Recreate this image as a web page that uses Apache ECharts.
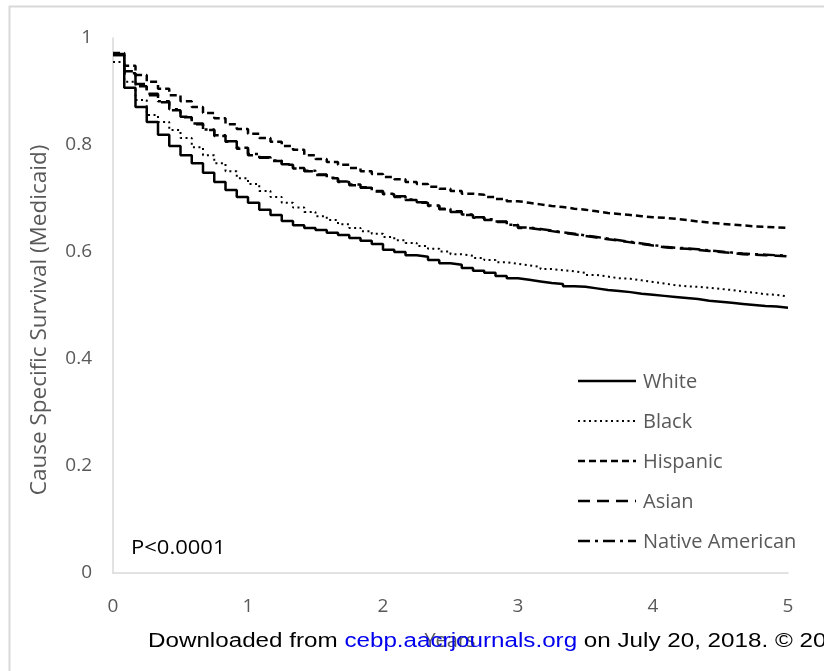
<!DOCTYPE html>
<html>
<head>
<meta charset="utf-8">
<script src="https://cdn.jsdelivr.net/npm/echarts@6/dist/echarts.min.js"></script>
<style>html,body{margin:0;padding:0;background:#fff}#c{width:824px;height:671px}</style>
</head>
<body>
<div id="c"></div>
<script>
// Monthly Kaplan-Meier estimates, month 0..60
const seriesNames = ['White', 'Black', 'Hispanic', 'Asian', 'Native American'];
const white = [0.968,0.907,0.871,0.843,0.819,0.798,0.781,0.766,0.748,0.731,0.716,0.703,0.692,0.679,0.669,0.658,0.650,0.645,0.641,0.636,0.632,0.626,0.621,0.615,0.604,0.600,0.594,0.591,0.585,0.579,0.576,0.570,0.565,0.561,0.555,0.551,0.548,0.545,0.542,0.540,0.536,0.535,0.532,0.529,0.527,0.525,0.522,0.520,0.518,0.516,0.514,0.512,0.509,0.507,0.505,0.503,0.501,0.499,0.498,0.496,0.495];
const black = [0.955,0.918,0.884,0.856,0.843,0.828,0.813,0.796,0.781,0.766,0.751,0.738,0.727,0.714,0.703,0.692,0.683,0.675,0.667,0.660,0.652,0.645,0.639,0.634,0.628,0.622,0.617,0.611,0.606,0.601,0.596,0.593,0.589,0.585,0.581,0.578,0.575,0.572,0.568,0.566,0.564,0.561,0.557,0.554,0.551,0.550,0.547,0.544,0.541,0.538,0.536,0.535,0.533,0.531,0.529,0.526,0.524,0.521,0.520,0.517,0.516];
const hispanic = [0.972,0.948,0.931,0.918,0.905,0.893,0.882,0.871,0.860,0.850,0.839,0.830,0.821,0.813,0.806,0.798,0.791,0.781,0.774,0.768,0.763,0.757,0.751,0.746,0.740,0.736,0.731,0.727,0.722,0.718,0.714,0.709,0.707,0.703,0.699,0.695,0.692,0.689,0.686,0.684,0.681,0.679,0.676,0.673,0.671,0.669,0.667,0.665,0.664,0.662,0.660,0.657,0.655,0.653,0.651,0.650,0.648,0.647,0.646,0.645,0.643];
const asian = [0.968,0.934,0.910,0.893,0.880,0.865,0.852,0.839,0.828,0.817,0.806,0.793,0.781,0.776,0.770,0.763,0.756,0.751,0.744,0.738,0.731,0.725,0.720,0.713,0.708,0.703,0.697,0.692,0.686,0.680,0.675,0.669,0.664,0.660,0.656,0.650,0.645,0.642,0.639,0.636,0.633,0.630,0.627,0.624,0.621,0.618,0.615,0.612,0.609,0.607,0.606,0.604,0.602,0.600,0.598,0.596,0.595,0.594,0.593,0.592,0.590];
const nativeAmerican = [0.970,0.938,0.914,0.896,0.882,0.867,0.853,0.840,0.829,0.818,0.807,0.795,0.783,0.777,0.771,0.764,0.757,0.752,0.745,0.739,0.732,0.726,0.721,0.714,0.709,0.704,0.698,0.693,0.687,0.681,0.676,0.670,0.665,0.661,0.657,0.651,0.646,0.643,0.640,0.637,0.634,0.631,0.628,0.625,0.622,0.619,0.616,0.613,0.610,0.608,0.607,0.605,0.603,0.601,0.599,0.597,0.596,0.595,0.594,0.593,0.592];
const xTicks = [0, 1, 2, 3, 4, 5];
const yTicks = [0, 0.2, 0.4, 0.6, 0.8, 1];

const years = white.map((_, i) => i / 12);
const toPairs = arr => arr.map((v, i) => [years[i], v]);

const styles = {
  'White': { width: 2.5, type: 'solid' },
  'Black': { width: 2, type: [2, 3.5] },
  'Hispanic': { width: 2.5, type: [7, 4] },
  'Asian': { width: 2.5, type: [12, 7] },
  'Native American': { width: 2.5, type: [12, 5, 3, 5] }
};
const dataMap = { 'White': white, 'Black': black, 'Hispanic': hispanic, 'Asian': asian, 'Native American': nativeAmerican };

const gray = '#595959';
const font = '"Open Sans"';

// manual legend (line sample + label)
const legendGraphics = [];
const legendX = 578, legendW = 58, legendTop = 381, legendStep = 40;
seriesNames.forEach((name, i) => {
  const y = legendTop + i * legendStep;
  legendGraphics.push({
    type: 'line', shape: { x1: legendX, y1: y, x2: legendX + legendW, y2: y },
    style: { stroke: '#000', lineWidth: styles[name].width, lineDash: styles[name].type === 'solid' ? null : styles[name].type }
  });
  legendGraphics.push({
    type: 'text', x: legendX + legendW + 7, y: y + 1,
    style: { text: name, fill: gray, font: '20px ' + font, textAlign: 'left', textVerticalAlign: 'middle' }
  });
});

const chart = echarts.init(document.getElementById('c'), null, { renderer: 'canvas' });
chart.setOption({
  backgroundColor: '#ffffff',
  animation: false,
  grid: { left: 113, right: 36, top: 38, bottom: 98, containLabel: false },
  xAxis: {
    type: 'value', min: xTicks[0], max: xTicks[xTicks.length - 1], interval: 1,
    axisLine: { show: true, lineStyle: { color: '#d9d9d9', width: 1.5 } },
    axisTick: { show: false },
    splitLine: { show: false },
    axisLabel: { color: gray, fontSize: 19, fontFamily: font, margin: 24 }
  },
  yAxis: {
    type: 'value', min: yTicks[0], max: yTicks[yTicks.length - 1], interval: 0.2,
    axisLine: { show: true, lineStyle: { color: '#d9d9d9', width: 1.5 } },
    axisTick: { show: false },
    splitLine: { show: false },
    axisLabel: { color: gray, fontSize: 19, fontFamily: font, margin: 21 }
  },
  series: seriesNames.map(name => ({
    name, type: 'line', step: 'end', symbol: 'none', showSymbol: false,
    data: toPairs(dataMap[name]),
    itemStyle: { color: '#000' },
    lineStyle: { color: '#000', width: styles[name].width, type: styles[name].type }
  })),
  graphic: [
    { type: 'rect', left: 7, top: 4, shape: { width: 900, height: 800 }, style: { fill: 'none', stroke: '#d9d9d9', lineWidth: 2 }, z: -1 },
    { type: 'text', x: 40, y: 320, rotation: Math.PI / 2,
      style: { text: 'Cause Specific Survival (Medicaid)', fill: gray, font: '22.5px ' + font, textAlign: 'center', textVerticalAlign: 'middle' } },
    { type: 'text', x: 131, y: 548, scaleX: 1.1,
      style: { text: 'P<0.0001', fill: '#000', font: '20px ' + font, textAlign: 'left', textVerticalAlign: 'middle' } },
    { type: 'text', x: 450, y: 641,
      style: { text: 'Years', fill: gray, font: '20px ' + font, textAlign: 'center', textVerticalAlign: 'middle' } },
    { type: 'text', x: 148, y: 641, scaleX: 1.21,
      style: {
        text: 'Downloaded from {b|cebp.aacrjournals.org} on July 20, 2018. © 2018 American Association for Cancer Research.',
        fill: '#000', font: '20px "Liberation Sans", Arial', textAlign: 'left', textVerticalAlign: 'middle',
        rich: { b: { fill: '#0000ee', font: '20px "Liberation Sans", Arial' } }
      } }
  ].concat(legendGraphics)
});
</script>
</body>
</html>
